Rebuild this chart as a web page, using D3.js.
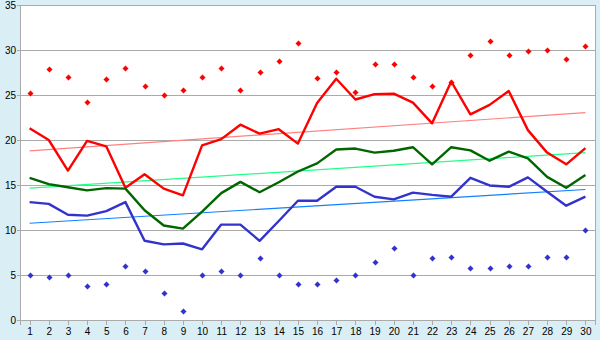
<!DOCTYPE html>
<html>
<head>
<meta charset="utf-8">
<script src="https://cdn.jsdelivr.net/npm/d3@7"></script>
<style>
  body { margin: 0; background: #d9eef5; }
  svg { display: block; font-family: "DejaVu Sans", Verdana, sans-serif; }
  .grid line { stroke: #aaaaaa; shape-rendering: crispEdges; }
  .axis path, .axis line { stroke: #aaaaaa; shape-rendering: crispEdges; }
  .axis text { fill: #000; font-size: 10px; }
</style>
</head>
<body>
<div id="chart"></div>
<script>
// Daily values, 30 days: three line series plus high / low markers
const days = d3.range(1, 31);

const redLine = [21.3, 20.0, 16.6, 19.9, 19.3, 14.7, 16.2, 14.6, 13.85, 19.4,
    20.1, 21.7, 20.7, 21.2, 19.6, 24.1, 26.8, 24.5, 25.1, 25.15,
    24.15, 21.85, 26.5, 22.85, 23.9, 25.45, 21.1, 18.6, 17.3, 19.1];

const greenLine = [15.8, 15.1, 14.75, 14.4, 14.65, 14.6, 12.2, 10.5, 10.15, 12.05,
    14.1, 15.35, 14.2, 15.3, 16.5, 17.4, 18.95, 19.05, 18.6, 18.8,
    19.2, 17.3, 19.2, 18.85, 17.7, 18.7, 17.95, 15.9, 14.7, 16.1];

const blueLine = [13.1, 12.9, 11.7, 11.6, 12.1, 13.1, 8.8, 8.4, 8.5, 7.85,
    10.6, 10.6, 8.8, 11.0, 13.25, 13.25, 14.8, 14.8, 13.7, 13.4,
    14.15, 13.9, 13.7, 15.8, 14.95, 14.8, 15.85, 14.25, 12.7, 13.7];

// Trend lines, value on day 1 and on day 30
const redTrend = [18.8, 23.05];
const greenTrend = [14.65, 18.6];
const blueTrend = [10.75, 14.5];

const redDots = [25.2, 27.85, 26.95, 24.2, 26.8, 28.05, 25.95, 24.95, 25.6, 26.95,
    27.95, 25.6, 27.6, 28.75, 30.75, 26.85, 27.6, 25.3, 28.4, 28.4,
    26.95, 25.95, 26.4, 29.4, 30.95, 29.4, 29.85, 30.05, 28.95, 30.4];

const blueDots = [5.0, 4.75, 5.0, 3.75, 3.95, 5.95, 5.4, 2.95, 0.95, 5.0,
    5.4, 5.0, 6.85, 5.0, 3.95, 3.95, 4.4, 5.0, 6.4, 7.95,
    5.0, 6.85, 6.95, 5.75, 5.75, 5.95, 5.95, 6.95, 6.95, 9.95];

const yTicks = [0, 5, 10, 15, 20, 25, 30, 35];

const series = [
    { values: redLine, trend: redTrend, color: '#ff0000', trendColor: '#ff8080' },
    { values: greenLine, trend: greenTrend, color: '#006600', trendColor: '#22ff88' },
    { values: blueLine, trend: blueTrend, color: '#3333cc', trendColor: '#1080ff' }
];

// Set up dimensions and margins
const margin = { top: 5, right: 5, bottom: 20, left: 20 };
const width = 600 - margin.left - margin.right;
const height = 340 - margin.top - margin.bottom;

const svg = d3.select('#chart')
    .append('svg')
    .attr('width', width + margin.left + margin.right)
    .attr('height', height + margin.top + margin.bottom)
    .append('g')
    .attr('transform', `translate(${margin.left}, ${margin.top})`);

// Plot background
svg.append('rect')
    .attr('width', width)
    .attr('height', height)
    .attr('fill', '#ffffff');

// Scales
const xScale = d3.scalePoint()
    .domain(days)
    .range([0, width])
    .padding(0.5);

const yScale = d3.scaleLinear()
    .domain([0, 35])
    .range([height, 0]);

// Horizontal grid lines
svg.append('g')
    .attr('class', 'grid')
    .selectAll('line')
    .data(yTicks)
    .enter()
    .append('line')
    .attr('x1', 0)
    .attr('x2', width)
    .attr('y1', d => Math.round(yScale(d)) + 0.5)
    .attr('y2', d => Math.round(yScale(d)) + 0.5);

// Right border of the plot
svg.append('line')
    .attr('x1', width + 0.5).attr('x2', width + 0.5)
    .attr('y1', 0).attr('y2', height)
    .attr('stroke', '#aaaaaa');

// Axes
svg.append('g')
    .attr('class', 'axis')
    .attr('transform', `translate(0, ${height})`)
    .call(d3.axisBottom(xScale).tickSize(5).tickPadding(3));

svg.append('g')
    .attr('class', 'axis')
    .call(d3.axisLeft(yScale).tickValues(yTicks).tickSize(3).tickPadding(1));

const line = d3.line()
    .x((d, i) => xScale(days[i]))
    .y(d => yScale(d));

// Trend lines first, then the data lines on top
series.forEach(s => {
    svg.append('path')
        .datum([[days[0], s.trend[0]], [days[days.length - 1], s.trend[1]]])
        .attr('fill', 'none')
        .attr('stroke', s.trendColor)
        .attr('stroke-width', 1.2)
        .attr('d', d3.line().x(d => xScale(d[0])).y(d => yScale(d[1])));
});

series.forEach(s => {
    svg.append('path')
        .datum(s.values)
        .attr('fill', 'none')
        .attr('stroke', s.color)
        .attr('stroke-width', 2.4)
        .attr('stroke-linejoin', 'round')
        .attr('d', line);
});

// Small plus-shaped markers (3x3 centre with 1px arms)
const marker = 'M-0.5,-2.5h1v1h1v1h1v1h-1v1h-1v1h-1v-1h-1v-1h-1v-1h1v-1h1z';

function addDots(values, color) {
    svg.append('g')
        .selectAll('path')
        .data(values)
        .enter()
        .append('path')
        .attr('d', marker)
        .attr('fill', color)
        .attr('stroke', color)
        .attr('stroke-width', 0.6)
        .attr('transform', (d, i) =>
            `translate(${Math.round(xScale(days[i])) + 0.5}, ${Math.round(yScale(d)) + 0.5})`);
}

addDots(redDots, '#ff0000');
addDots(blueDots, '#3333cc');
</script>
</body>
</html>
